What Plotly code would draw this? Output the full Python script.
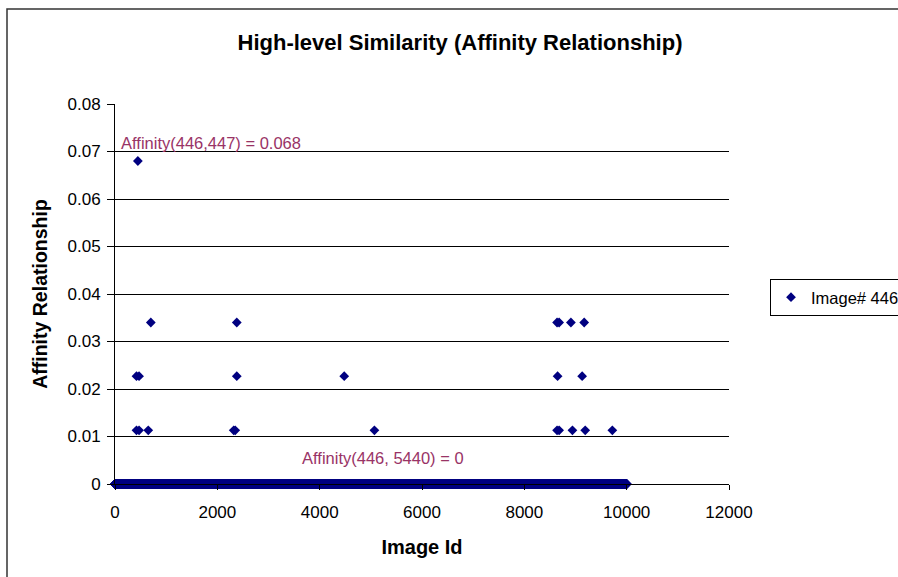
import plotly.graph_objects as go

# ---- data ----
n_images = 10000  # image ids 1..10000, affinity with image #446
nonzero_ids = [447,
               700, 2380, 8640, 8680, 8910, 9170,
               420, 470, 2380, 4480, 8650, 9130,
               420, 470, 650, 2320, 2350, 5070, 8640, 8680, 8940, 9190, 9720]
nonzero_affinity = [0.068,
                    0.034, 0.034, 0.034, 0.034, 0.034, 0.034,
                    0.0227, 0.0227, 0.0227, 0.0227, 0.0227, 0.0227,
                    0.0113, 0.0113, 0.0113, 0.0113, 0.0113, 0.0113, 0.0113, 0.0113, 0.0113, 0.0113, 0.0113]
series_name = "Image# 446"
x_ticks = [0, 2000, 4000, 6000, 8000, 10000, 12000]
y_ticks = [0, 0.01, 0.02, 0.03, 0.04, 0.05, 0.06, 0.07, 0.08]
y_tick_labels = ["0", "0.01", "0.02", "0.03", "0.04", "0.05", "0.06", "0.07", "0.08"]

ids = []
vals = []
nz = set(nonzero_ids)
for i in range(0, n_images + 1):
    if i not in nz:
        ids.append(i)
        vals.append(0.0)
ids += nonzero_ids
vals += nonzero_affinity

FONT = "Liberation Sans, Arial, sans-serif"
NAVY = "#000080"
PLUM = "#993366"

fig = go.Figure()
fig.add_trace(go.Scatter(
    x=ids, y=vals, mode="markers", name=series_name, cliponaxis=False,
    marker=dict(symbol="diamond", size=7.5, color=NAVY, line=dict(width=0)),
    showlegend=True,
))

L, R, T, B = 115, 169, 104, 93
W, H = 898, 577
pw, ph = W - L - R, H - T - B

def px2paper_x(px):
    return (px - L) / pw

def px2paper_y(py):
    return (H - B - py) / ph

fig.update_layout(
    width=W, height=H,
    margin=dict(l=L, r=R, t=T, b=B, pad=0, autoexpand=False),
    paper_bgcolor="white", plot_bgcolor="white",
    font=dict(family=FONT, size=17, color="black"),
    title=dict(text="<b>High-level Similarity (Affinity Relationship)</b>",
               x=px2paper_x(460), xref="paper", xanchor="center",
               y=1 - 42 / H, yanchor="middle",
               font=dict(family=FONT, size=22, color="black")),
    xaxis=dict(range=[0, 12000], tickvals=x_ticks, ticktext=[str(t) for t in x_ticks],
               showgrid=False, zeroline=False, showline=True, linecolor="black", linewidth=1,
               ticks="outside", ticklen=5, tickcolor="black", ticklabelstandoff=8,
               title=dict(text="<b>Image Id</b>", font=dict(size=20), standoff=18),
               tickfont=dict(size=17)),
    yaxis=dict(range=[0, 0.08], tickvals=y_ticks, ticktext=y_tick_labels,
               showgrid=True, gridcolor="black", gridwidth=1, zeroline=False,
               showline=True, linecolor="black", linewidth=1,
               ticks="outside", ticklen=7, tickcolor="black", ticklabelstandoff=3,
               title=dict(text="<b>Affinity Relationship</b>", font=dict(size=19.5), standoff=14),
               tickfont=dict(size=17)),
    legend=dict(x=px2paper_x(770), xanchor="left", y=px2paper_y(279), yanchor="top",
                bordercolor="black", borderwidth=1, bgcolor="white",
                font=dict(size=16.5)),
    showlegend=True,
)

fig.add_annotation(x=80, y=0.0717, xref="x", yref="y", text="Affinity(446,447) = 0.068",
                   showarrow=False, xanchor="left", yanchor="middle",
                   font=dict(family=FONT, size=16.5, color=PLUM))
fig.add_annotation(x=3620, y=0.0055, xref="x", yref="y", text="Affinity(446, 5440) = 0",
                   showarrow=False, xanchor="left", yanchor="middle",
                   font=dict(family=FONT, size=16.5, color=PLUM))

# outer chart-area border
fig.add_shape(type="rect", xref="paper", yref="paper",
              x0=px2paper_x(7), x1=px2paper_x(960), y0=px2paper_y(9), y1=px2paper_y(640),
              line=dict(color="#333333", width=1.5), fillcolor="rgba(0,0,0,0)", layer="below")

fig.write_html("out.html")
